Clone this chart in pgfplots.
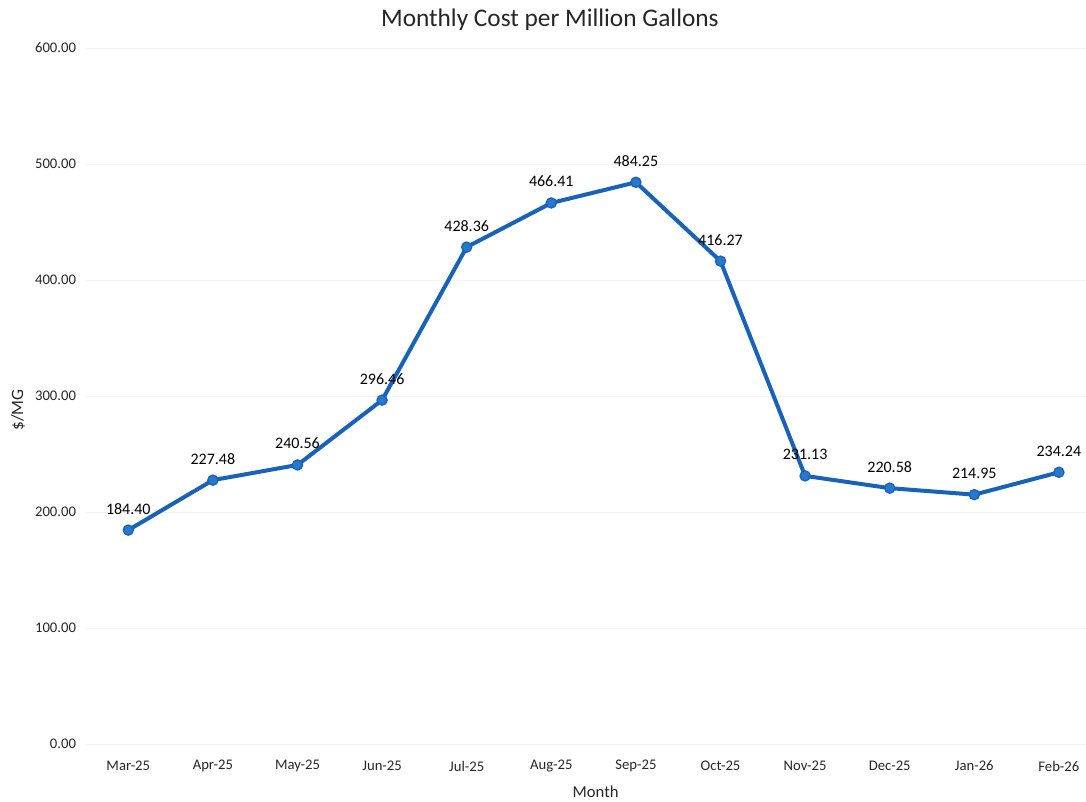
\documentclass[border=0pt]{standalone}
\usepackage{fontspec}
\setmainfont{Carlito}
\usepackage{pgfplots}
\pgfplotsset{compat=1.18}

\definecolor{lineblue}{HTML}{1763BA}
\definecolor{markblue}{HTML}{2A78CC}

\begin{document}
\begin{tikzpicture}
  \begin{axis}[
      scale only axis,
      width=761.4pt,
      height=522pt,
      xmin=-0.5, xmax=11.5,
      ymin=0, ymax=600,
      ytick={0,100,...,600},
      xtick={0,...,11},
      xticklabels={Mar-25,Apr-25,May-25,Jun-25,Jul-25,Aug-25,Sep-25,Oct-25,Nov-25,Dec-25,Jan-26,Feb-26},
      axis line style={draw=none},
      major tick length=0pt,
      ymajorgrids,
      grid style={gray!10, line width=0.6pt},
      /pgf/number format/.cd, fixed, fixed zerofill, precision=2, assume math mode=true,
      /pgfplots/.cd,
      tick label style={font=\fontsize{11}{13}\selectfont, text=black!85},
      yticklabel style={anchor=east, xshift=-4pt},
      xticklabel style={anchor=center, yshift=-16.5pt},
      title={Monthly Cost per Million Gallons},
      title style={at={(0.457,1)}, anchor=center, yshift=15pt, font=\fontsize{19}{22}\selectfont, text=black!85},
      ylabel={\$/MG},
      ylabel style={at={(axis description cs:0,0.48)}, anchor=center, yshift=51pt, font=\fontsize{13}{15}\selectfont, text=black!85},
      xlabel={Month},
      xlabel style={at={(axis description cs:0.502,0)}, anchor=center, yshift=-36pt, font=\fontsize{12.5}{15}\selectfont, text=black!85},
      clip=false,
    ]
    \addplot[color=lineblue, line width=3pt, mark=*, mark size=3.8pt,
      mark options={fill=markblue, draw=lineblue, line width=1pt},
      point meta=explicit symbolic,
      nodes near coords,
      nodes near coords style={anchor=center, yshift=16pt, font=\fontsize{12}{14}\selectfont, text=black}]
      coordinates {
        (0,184.40) [184.40]
        (1,227.48) [227.48]
        (2,240.56) [240.56]
        (3,296.46) [296.46]
        (4,428.36) [428.36]
        (5,466.41) [466.41]
        (6,484.25) [484.25]
        (7,416.27) [416.27]
        (8,231.13) [231.13]
        (9,220.58) [220.58]
        (10,214.95) [214.95]
        (11,234.24) [234.24]
      };
  \end{axis}
  \pgfresetboundingbox
  \useasboundingbox (-64.5pt,-42.75pt) rectangle (750pt,558pt);
\end{tikzpicture}
\end{document}
